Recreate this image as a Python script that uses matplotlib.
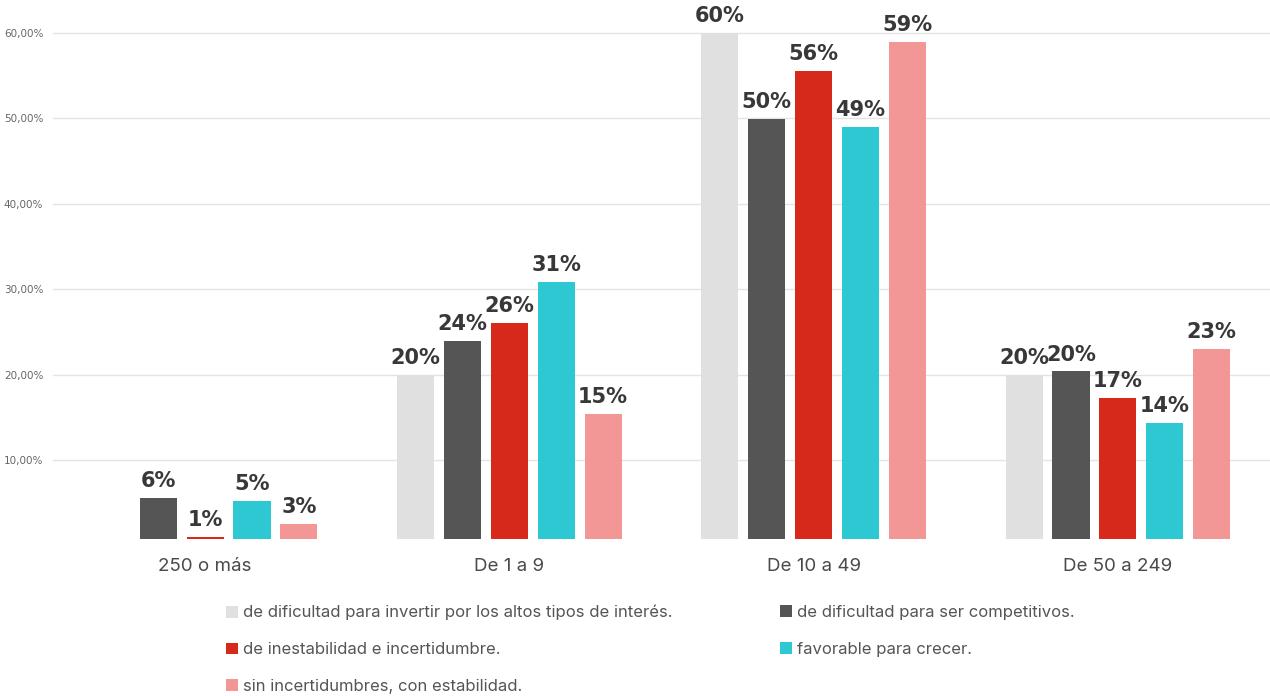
import matplotlib
matplotlib.use("Agg")
import matplotlib.pyplot as plt
from matplotlib.patches import Patch
import numpy as np

categories = ["250 o más", "De 1 a 9", "De 10 a 49", "De 50 a 249"]
series_names = [
    "de dificultad para invertir por los altos tipos de interés.",
    "de dificultad para ser competitivos.",
    "de inestabilidad e incertidumbre.",
    "favorable para crecer.",
    "sin incertidumbres, con estabilidad.",
]
# percentages per series, one value per category (None = no answer)
invertir = [None, 20.0, 60.0, 20.0]
competitivos = [5.6, 24.0, 49.9, 20.4]
inestabilidad = [1.05, 26.1, 55.6, 17.3]
favorable = [5.3, 30.9, 49.0, 14.4]
estabilidad = [2.6, 15.4, 58.9, 23.0]
series_values = [invertir, competitivos, inestabilidad, favorable, estabilidad]
y_ticks = [10, 20, 30, 40, 50, 60]
y_tick_labels = ["10,00%", "20,00%", "30,00%", "40,00%", "50,00%", "60,00%"]

colors = ["#e0e0e0", "#555555", "#d7281c", "#2ec8d2", "#f39796"]

fig = plt.figure(figsize=(12.7, 6.96), dpi=100)
ax = fig.add_axes([53 / 1270, 1 - 539 / 696, 1 - 53 / 1270, (539 - 33) / 696])

x = np.arange(len(categories))
width = 0.122
step = 0.154
for i, (vals, col) in enumerate(zip(series_values, colors)):
    off = (i - 2) * step
    for xi, v in zip(x, vals):
        if v is None:
            continue
        ax.bar(xi + off, v, width=width, color=col, zorder=3)
        ax.annotate(f"{round(v)}%", (xi + off, v), xytext=(0, 5),
                    textcoords="offset points", ha="center", va="bottom",
                    fontsize=15, fontweight="heavy", color="#383838",
                    annotation_clip=False, clip_on=False, zorder=4)

ax.set_xlim(-0.5, len(categories) - 0.5)
ax.set_ylim(0.8, 60)
ax.set_yticks(y_ticks)
ax.set_yticklabels(y_tick_labels, fontsize=7.5, color="#666666")
ax.set_xticks(x)
ax.set_xticklabels(categories, fontsize=13.5, color="#4a4a4a", family="Inter")
ax.tick_params(axis="y", length=0, pad=7)
ax.tick_params(axis="x", length=0, pad=14)
for s in ax.spines.values():
    s.set_visible(False)
for t in y_ticks:
    ax.axhline(t, color="#e4e4e4", lw=1, zorder=1, clip_on=False)

handles = [Patch(facecolor=c, edgecolor="none") for c in colors]
leg_kw = dict(frameon=False, handlelength=0.7, handleheight=0.7,
              handletextpad=0.3, labelspacing=1.3, labelcolor="#555555",
              prop={"family": "Inter", "size": 12})
leg1 = fig.legend([handles[0], handles[2], handles[4]],
                  [series_names[0], series_names[2], series_names[4]],
                  loc="upper left", bbox_to_anchor=(211 / 1270, 1 - 590 / 696), **leg_kw)
leg2 = fig.legend([handles[1], handles[3]],
                  [series_names[1], series_names[3]],
                  loc="upper left", bbox_to_anchor=(765 / 1270, 1 - 590 / 696), **leg_kw)

fig.savefig("out.png", dpi=100, facecolor="white")
